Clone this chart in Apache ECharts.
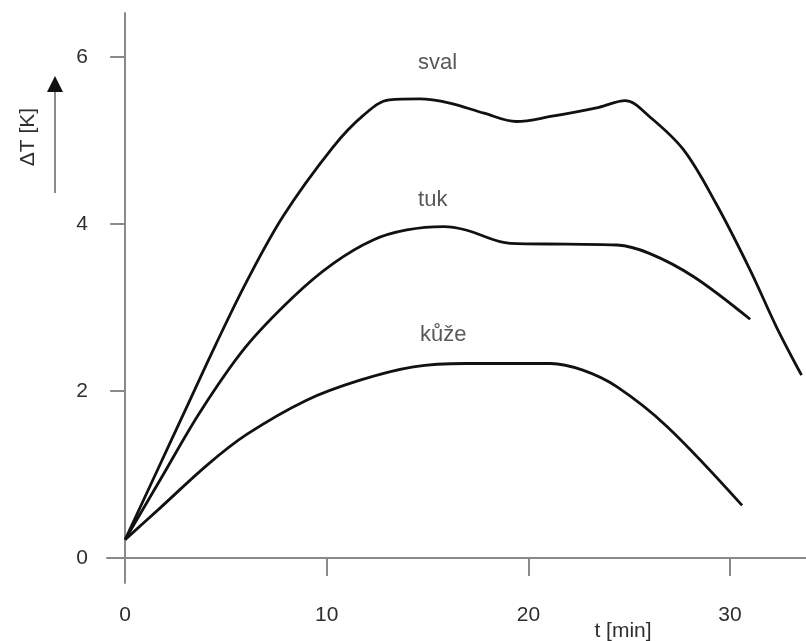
<!DOCTYPE html>
<html>
<head>
<meta charset="utf-8">
<style>
  html, body { margin: 0; padding: 0; background: #fff; }
  #chart { width: 806px; height: 641px; }
</style>
<script src="https://cdn.jsdelivr.net/npm/echarts@6/dist/echarts.min.js"></script>
</head>
<body>
<div id="chart"></div>
<script>
// Temperature rise ΔT [K] over time t [min] for muscle, fat and skin
const svalT  = [0, 1.5, 3.0, 4.5, 6.0, 7.85, 10.3, 11.8, 13.1, 14.6, 16.1, 17.8, 19.4, 21.1, 23.5, 24.8, 26.0, 27.7, 29.3, 31.0, 32.3, 33.55];
const svalDT = [0.22, 1.0, 1.78, 2.56, 3.3, 4.1, 4.92, 5.3, 5.49, 5.50, 5.45, 5.33, 5.23, 5.29, 5.40, 5.48, 5.29, 4.89, 4.25, 3.45, 2.77, 2.19];

const tukT  = [0, 1.82, 3.72, 5.95, 8.35, 10.33, 12.3, 13.97, 15.8, 16.9, 19.1, 21.9, 24.4, 26.0, 28.2, 31.0];
const tukDT = [0.22, 0.97, 1.75, 2.52, 3.13, 3.53, 3.81, 3.93, 3.97, 3.93, 3.77, 3.76, 3.75, 3.65, 3.37, 2.86];

const kuzeT  = [0, 1.74, 4.05, 6.03, 9.0, 11.65, 14.3, 16.9, 21.1, 22.7, 24.4, 26.9, 30.6];
const kuzeDT = [0.22, 0.6, 1.11, 1.48, 1.89, 2.13, 2.29, 2.33, 2.33, 2.25, 2.05, 1.57, 0.63];

const curveNames = ['sval', 'tuk', 'kůže'];
const labelT  = [14.53, 14.53, 14.63];
const labelDT = [5.93, 4.29, 2.67];

const xTicks = [0, 10, 20, 30];
const yTicks = [0, 2, 4, 6];

const zip = (a, b) => a.map((v, i) => [v, b[i]]);

const axisColor = '#8a8a8a';
const textColor = '#2e2e2e';
const fontFamily = '"Liberation Sans", Arial, sans-serif';
const fontSize = 21;

const lineSeries = (name, t, dt) => ({
  name: name,
  type: 'line',
  data: zip(t, dt),
  smooth: 0.35,
  symbol: 'none',
  lineStyle: { color: '#111', width: 2.8 },
  z: 3
});

const chart = echarts.init(document.getElementById('chart'), null, { renderer: 'canvas' });

chart.setOption({
  animation: false,
  backgroundColor: '#fff',
  grid: { left: 107, right: 0, top: 13, bottom: 58, containLabel: false },
  xAxis: {
    type: 'value',
    min: -0.9,
    max: 33.77,
    axisLine: { onZero: true, lineStyle: { color: axisColor, width: 2 } },
    axisTick: { show: true, customValues: xTicks, length: 18, lineStyle: { color: axisColor, width: 2 } },
    axisLabel: { customValues: xTicks, margin: 22, color: textColor, fontSize: fontSize, fontFamily: fontFamily },
    splitLine: { show: false }
  },
  yAxis: {
    type: 'value',
    min: -0.3,
    max: 6.53,
    axisLine: { show: true, onZero: true, lineStyle: { color: axisColor, width: 2 } },
    axisTick: { show: true, customValues: yTicks, length: 15, lineStyle: { color: axisColor, width: 2 } },
    axisLabel: { customValues: yTicks, margin: 19, color: textColor, fontSize: fontSize, fontFamily: fontFamily },
    splitLine: { show: false }
  },
  series: [
    lineSeries('sval', svalT, svalDT),
    lineSeries('tuk', tukT, tukDT),
    lineSeries('kůže', kuzeT, kuzeDT),
    {
      type: 'scatter',
      symbolSize: 0,
      data: curveNames.map((n, i) => ({ name: n, value: [labelT[i], labelDT[i]] })),
      label: {
        show: true,
        position: 'inside',
        align: 'left',
        verticalAlign: 'middle',
        formatter: p => p.name,
        color: textColor,
        fontSize: 22,
        fontFamily: fontFamily
      },
      silent: true,
      z: 4
    }
  ],
  graphic: [
    {
      type: 'text',
      x: 28, y: 137,
      rotation: Math.PI / 2,
      style: { text: 'ΔT [K]', fill: textColor, font: fontSize + 'px ' + fontFamily, align: 'center', verticalAlign: 'middle' }
    },
    {
      type: 'line',
      shape: { x1: 55, y1: 193, x2: 55, y2: 90 },
      style: { stroke: axisColor, lineWidth: 2 }
    },
    {
      type: 'polygon',
      shape: { points: [[47, 92], [63, 92], [55, 76]] },
      style: { fill: '#111' }
    },
    {
      type: 'text',
      x: 623, y: 631,
      style: { text: 't [min]', fill: textColor, font: fontSize + 'px ' + fontFamily, align: 'center', verticalAlign: 'middle' }
    }
  ]
});
</script>
</body>
</html>
